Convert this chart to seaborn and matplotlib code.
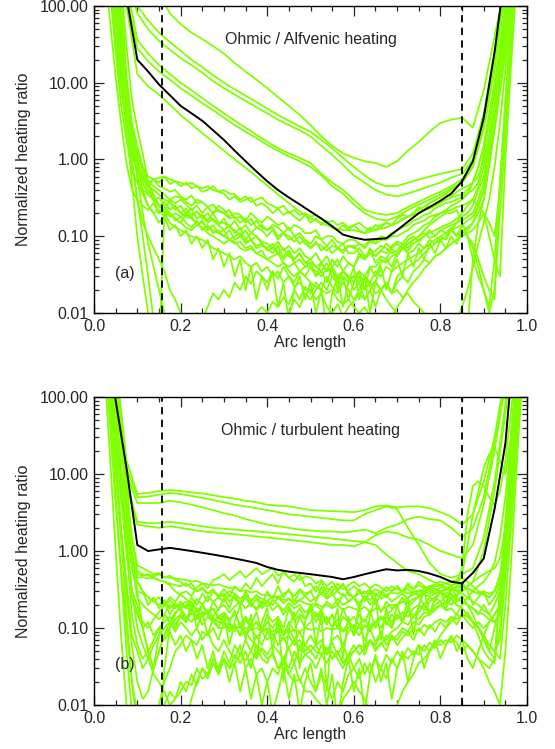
import numpy as np
import pandas as pd
import matplotlib
matplotlib.use("Agg")
import matplotlib.pyplot as plt
import seaborn as sns
from matplotlib.ticker import MultipleLocator, LogLocator, FormatStrFormatter, NullFormatter

# ---------------- data ----------------
arc = [round(0.025 * i, 4) for i in range(41)]        # coarse grid for smooth curves
arc_fine = [round(0.0125 * i, 4) for i in range(81)]  # fine grid for noisy curves

# ===== panel (a): Ohmic / Alfvenic heating =====
mean_a = [1000, 1000, 1000, 130, 20, 14, 9.5, 6.9, 5.0, 4.0, 3.2, 2.4, 1.8, 1.3, 0.95, 0.7, 0.52, 0.4, 0.32, 0.26,
          0.21, 0.17, 0.135, 0.105, 0.096, 0.09, 0.092, 0.094, 0.12, 0.155, 0.2, 0.24, 0.29, 0.36, 0.52, 0.95, 3.5, 25, 300, 1000, 1000]

a_u1 = [1000, 1000, 1000, 1000, 1000, 1000, 150, 80, 58, 45, 37, 30, 24, 18, 14, 11, 8.5, 6.5, 5, 3.8,
        2.8, 2.0, 1.5, 1.2, 1.05, 0.95, 0.9, 0.8, 0.95, 1.3, 1.7, 2.3, 3.0, 3.3, 3.5, 2.6, 8, 40, 200, 1000, 1000]
a_u2 = [1000, 1000, 1000, 300, 100, 65, 45, 34, 26, 20, 16, 12.5, 10, 8.2, 6.8, 5.6, 4.6, 3.8, 3.2, 2.7,
        2.3, 1.8, 1.4, 1.05, 0.8, 0.62, 0.5, 0.45, 0.45, 0.5, 0.55, 0.6, 0.65, 0.7, 0.75, 1.2, 4, 25, 200, 1000, 1000]
a_u3 = [1000, 1000, 1000, 250, 80, 50, 35, 27, 21, 17, 13.5, 10.5, 8.5, 7, 5.8, 4.8, 4, 3.3, 2.8, 2.4,
        2.0, 1.5, 1.15, 0.85, 0.62, 0.5, 0.4, 0.35, 0.33, 0.36, 0.4, 0.45, 0.5, 0.58, 0.65, 1.0, 3.5, 20, 180, 1000, 1000]
a_u4 = [1000, 1000, 1000, 100, 13, 9, 7, 5.2, 3.8, 2.9, 2.2, 1.7, 1.3, 1.0, 0.78, 0.6, 0.46, 0.35, 0.27, 0.21,
        0.17, 0.15, 0.13, 0.12, 0.12, 0.11, 0.12, 0.13, 0.15, 0.18, 0.22, 0.27, 0.32, 0.4, 0.5, 0.8, 2.5, 15, 150, 1000, 1000]
a_u5 = [1000, 1000, 1000, 200, 36, 24, 17, 13, 10, 8, 6.3, 5, 4, 3.2, 2.6, 2.1, 1.7, 1.4, 1.2, 1.05,
        0.9, 0.65, 0.5, 0.4, 0.3, 0.22, 0.2, 0.19, 0.2, 0.24, 0.28, 0.33, 0.38, 0.45, 0.55, 0.9, 3, 18, 160, 1000, 1000]
a_u6 = [1000, 1000, 1000, 150, 28, 19, 14, 11, 8.5, 6.8, 5.4, 4.4, 3.5, 2.8, 2.3, 1.9, 1.55, 1.3, 1.1, 0.95,
        0.8, 0.62, 0.45, 0.36, 0.26, 0.2, 0.17, 0.16, 0.18, 0.22, 0.26, 0.3, 0.35, 0.42, 0.5, 0.8, 2.6, 16, 140, 1000, 1000]

a_n1 = [1000, 1000, 1000, 400, 80, 15, 4, 1.5,
        0.8, 0.6, 0.5, 0.55, 0.45, 0.42, 0.38, 0.4,
        0.33, 0.3, 0.34, 0.27, 0.28, 0.24, 0.26, 0.21,
        0.2, 0.22, 0.17, 0.18, 0.15, 0.17, 0.13, 0.14,
        0.12, 0.13, 0.1, 0.11, 0.09, 0.1, 0.08, 0.09,
        0.07, 0.085, 0.065, 0.075, 0.06, 0.07, 0.065, 0.075,
        0.07, 0.08, 0.075, 0.09, 0.085, 0.1, 0.095, 0.11,
        0.12, 0.13, 0.14, 0.16, 0.17, 0.19, 0.2, 0.23,
        0.25, 0.27, 0.28, 0.3, 0.33, 0.36, 0.4, 0.5,
        1.2, 3, 8, 25, 80, 300, 1000, 1000, 1000]
a_n2 = [1000, 1000, 1000, 200, 40, 9, 2.5, 1.1,
        0.8, 0.6, 0.45, 0.55, 0.5, 0.6, 0.48, 0.52,
        0.45, 0.5, 0.42, 0.45, 0.38, 0.4, 0.45, 0.38,
        0.36, 0.3, 0.33, 0.28, 0.3, 0.32, 0.25, 0.27,
        0.24, 0.2, 0.23, 0.19, 0.21, 0.18, 0.16, 0.19,
        0.15, 0.17, 0.14, 0.16, 0.13, 0.12, 0.14, 0.12,
        0.14, 0.12, 0.11, 0.13, 0.12, 0.14, 0.15, 0.14,
        0.17, 0.19, 0.18, 0.2, 0.24, 0.22, 0.27, 0.3,
        0.32, 0.35, 0.33, 0.38, 0.42, 0.45, 0.5, 0.6,
        1.0, 2, 5, 15, 50, 150, 600, 1000, 1000]
a_n3 = [1000, 1000, 1000, 1000, 150, 30, 8, 2.5,
        1.0, 0.5, 0.35, 0.3, 0.25, 0.28, 0.22, 0.25,
        0.2, 0.23, 0.19, 0.21, 0.18, 0.15, 0.17, 0.14,
        0.17, 0.13, 0.12, 0.1, 0.12, 0.09, 0.1, 0.085,
        0.08, 0.07, 0.085, 0.065, 0.075, 0.06, 0.07, 0.055,
        0.05, 0.06, 0.045, 0.055, 0.04, 0.05, 0.035, 0.045,
        0.04, 0.055, 0.05, 0.06, 0.055, 0.065, 0.06, 0.075,
        0.085, 0.08, 0.1, 0.11, 0.12, 0.14, 0.15, 0.18,
        0.2, 0.21, 0.22, 0.24, 0.25, 0.27, 0.3, 0.45,
        0.8, 2, 5, 15, 50, 200, 1000, 1000, 1000]
a_n4 = [1000, 1000, 300, 60, 12, 3, 0.9, 0.4,
        0.3, 0.25, 0.22, 0.27, 0.2, 0.24, 0.2, 0.17,
        0.15, 0.19, 0.18, 0.14, 0.16, 0.12, 0.14, 0.11,
        0.12, 0.09, 0.1, 0.11, 0.08, 0.09, 0.07, 0.075,
        0.07, 0.06, 0.075, 0.05, 0.06, 0.045, 0.05, 0.04,
        0.045, 0.03, 0.035, 0.025, 0.04, 0.02, 0.03, 0.015,
        0.025, 0.035, 0.02, 0.04, 0.03, 0.045, 0.05, 0.04,
        0.06, 0.07, 0.065, 0.08, 0.09, 0.1, 0.11, 0.12,
        0.13, 0.14, 0.15, 0.17, 0.18, 0.2, 0.25, 0.4,
        0.6, 1.5, 4, 12, 40, 150, 600, 1000, 1000]
a_n5 = [1000, 1000, 1000, 1000, 1000, 200, 30, 6,
        2.5, 1.2, 0.5, 0.3, 0.2, 0.22, 0.18, 0.2,
        0.18, 0.2, 0.23, 0.17, 0.19, 0.16, 0.2, 0.15,
        0.15, 0.13, 0.16, 0.12, 0.14, 0.11, 0.13, 0.12,
        0.1, 0.12, 0.09, 0.11, 0.1, 0.085, 0.1, 0.08,
        0.07, 0.08, 0.075, 0.065, 0.075, 0.07, 0.08, 0.06,
        0.06, 0.07, 0.055, 0.06, 0.065, 0.075, 0.07, 0.06,
        0.065, 0.08, 0.07, 0.09, 0.1, 0.11, 0.095, 0.1,
        0.12, 0.13, 0.14, 0.15, 0.16, 0.18, 0.2, 0.3,
        0.5, 1.2, 3, 10, 30, 100, 400, 1000, 1000]
a_n6 = [1000, 1000, 1000, 500, 100, 20, 4, 1,
        0.3, 0.1, 0.03, 0.008, 0.003, 0.2, 0.3, 0.27,
        0.3, 0.26, 0.22, 0.25, 0.2, 0.24, 0.2, 0.22,
        0.2, 0.17, 0.18, 0.15, 0.17, 0.14, 0.16, 0.13,
        0.12, 0.14, 0.13, 0.11, 0.13, 0.1, 0.11, 0.09,
        0.08, 0.1, 0.09, 0.075, 0.09, 0.07, 0.06, 0.075,
        0.075, 0.06, 0.05, 0.065, 0.045, 0.055, 0.05, 0.07,
        0.055, 0.07, 0.06, 0.065, 0.08, 0.07, 0.09, 0.08,
        0.1, 0.09, 0.12, 0.1, 0.12, 0.1, 0.08, 0.05,
        0.03, 0.02, 0.015, 0.5, 6, 60, 500, 1000, 1000]
a_n7 = [1000, 1000, 1000, 700, 150, 25, 5, 1.5,
        0.6, 0.2, 0.08, 0.04, 0.02, 0.01, 0.006, 0.004,
        0.003, 0.004, 0.006, 0.01, 0.008, 0.012, 0.018, 0.015,
        0.02, 0.016, 0.025, 0.02, 0.03, 0.024, 0.035, 0.03,
        0.025, 0.035, 0.028, 0.04, 0.03, 0.025, 0.035, 0.03,
        0.04, 0.03, 0.045, 0.035, 0.05, 0.04, 0.055, 0.045,
        0.04, 0.06, 0.05, 0.07, 0.055, 0.065, 0.08, 0.07,
        0.08, 0.07, 0.09, 0.1, 0.085, 0.1, 0.12, 0.1,
        0.12, 0.11, 0.13, 0.1, 0.14, 0.12, 0.15, 0.2,
        0.3, 0.8, 2.5, 8, 25, 90, 350, 1000, 1000]
a_n8 = [1000, 1000, 800, 150, 25, 5, 1.8, 0.7,
        0.5, 0.4, 0.35, 0.3, 0.32, 0.25, 0.28, 0.22,
        0.25, 0.2, 0.18, 0.21, 0.17, 0.2, 0.16, 0.14,
        0.12, 0.14, 0.11, 0.13, 0.09, 0.11, 0.1, 0.08,
        0.07, 0.08, 0.06, 0.07, 0.055, 0.05, 0.06, 0.045,
        0.045, 0.04, 0.035, 0.045, 0.03, 0.025, 0.035, 0.03,
        0.02, 0.025, 0.015, 0.02, 0.012, 0.02, 0.025, 0.018,
        0.025, 0.03, 0.025, 0.035, 0.04, 0.05, 0.045, 0.055,
        0.06, 0.07, 0.08, 0.09, 0.1, 0.11, 0.12, 0.15,
        0.3, 0.9, 2.5, 8, 25, 100, 400, 1000, 1000]
a_n9 = [1000, 1000, 1000, 1000, 300, 40, 7, 2.5,
        1.2, 0.7, 0.5, 0.45, 0.4, 0.35, 0.3, 0.33,
        0.32, 0.28, 0.25, 0.3, 0.28, 0.24, 0.2, 0.25,
        0.22, 0.18, 0.2, 0.19, 0.16, 0.2, 0.17, 0.15,
        0.18, 0.16, 0.14, 0.15, 0.12, 0.14, 0.13, 0.11,
        0.11, 0.12, 0.09, 0.1, 0.1, 0.085, 0.08, 0.09,
        0.09, 0.08, 0.07, 0.085, 0.08, 0.09, 0.09, 0.1,
        0.1, 0.11, 0.12, 0.14, 0.15, 0.16, 0.18, 0.19,
        0.2, 0.22, 0.25, 0.27, 0.3, 0.35, 0.5, 0.8,
        1.5, 4, 10, 30, 100, 400, 1000, 1000, 1000]
a_n10 = [1000, 1000, 1000, 250, 45, 10, 3.5, 1.5,
         0.9, 0.6, 0.4, 0.3, 0.25, 0.22, 0.2, 0.17,
         0.15, 0.13, 0.12, 0.14, 0.13, 0.11, 0.1, 0.09,
         0.08, 0.09, 0.085, 0.07, 0.065, 0.07, 0.06, 0.055,
         0.05, 0.045, 0.04, 0.045, 0.035, 0.03, 0.035, 0.03,
         0.025, 0.022, 0.02, 0.018, 0.02, 0.015, 0.013, 0.015,
         0.012, 0.01, 0.012, 0.009, 0.01, 0.008, 0.006, 0.009,
         0.012, 0.015, 0.02, 0.025, 0.03, 0.038, 0.045, 0.055,
         0.06, 0.07, 0.08, 0.09, 0.11, 0.13, 0.15, 0.25,
         0.4, 1, 3, 9, 30, 100, 400, 1000, 1000]
a_n11 = [1000, 1000, 1000, 300, 35, 8, 3, 1.2,
         0.7, 0.55, 0.45, 0.4, 0.35, 0.3, 0.28, 0.24,
         0.2, 0.18, 0.17, 0.15, 0.15, 0.13, 0.12, 0.11,
         0.1, 0.09, 0.08, 0.085, 0.07, 0.075, 0.06, 0.065,
         0.05, 0.055, 0.06, 0.045, 0.04, 0.045, 0.035, 0.04,
         0.04, 0.035, 0.03, 0.038, 0.035, 0.028, 0.03, 0.025,
         0.03, 0.035, 0.03, 0.04, 0.04, 0.05, 0.045, 0.055,
         0.06, 0.07, 0.08, 0.09, 0.1, 0.12, 0.14, 0.16,
         0.18, 0.2, 0.2, 0.22, 0.15, 0.1, 0.05, 0.03,
         0.02, 0.012, 0.05, 0.5, 5, 40, 300, 1000, 1000]
a_n12 = [1000, 1000, 1000, 1000, 500, 60, 8, 2,
         1.2, 0.8, 0.6, 0.55, 0.58, 0.6, 0.55, 0.52,
         0.5, 0.47, 0.5, 0.45, 0.42, 0.45, 0.4, 0.38,
         0.4, 0.36, 0.35, 0.3, 0.33, 0.28, 0.3, 0.32,
         0.27, 0.25, 0.23, 0.25, 0.2, 0.22, 0.19, 0.2,
         0.18, 0.19, 0.17, 0.15, 0.16, 0.14, 0.15, 0.13,
         0.14, 0.15, 0.13, 0.12, 0.14, 0.13, 0.15, 0.14,
         0.15, 0.17, 0.18, 0.19, 0.2, 0.22, 0.23, 0.25,
         0.27, 0.3, 0.32, 0.34, 0.35, 0.4, 0.5, 0.8,
         1.5, 3, 7, 20, 60, 200, 800, 1000, 1000]
a_n13 = [1000, 1000, 1000, 600, 60, 10, 3, 0.9,
         0.3, 0.15, 0.1, 0.07, 0.05, 0.035, 0.02, 0.015,
         0.01, 0.007, 0.005, 0.004, 0.003, 0.003, 0.003, 0.003,
         0.003, 0.003, 0.004, 0.005, 0.006, 0.008, 0.01, 0.012,
         0.01, 0.014, 0.012, 0.016, 0.013, 0.02, 0.015, 0.022,
         0.018, 0.025, 0.02, 0.03, 0.022, 0.018, 0.025, 0.02,
         0.015, 0.02, 0.03, 0.025, 0.035, 0.03, 0.04, 0.035,
         0.04, 0.045, 0.05, 0.055, 0.06, 0.07, 0.08, 0.09,
         0.1, 0.11, 0.12, 0.13, 0.14, 0.16, 0.18, 0.25,
         0.4, 1, 3, 10, 35, 130, 500, 1000, 1000]
a_n14 = [1000, 1000, 1000, 1000, 1000, 150, 12, 3,
         1.5, 0.8, 0.5, 0.35, 0.25, 0.2, 0.15, 0.13,
         0.12, 0.11, 0.1, 0.095, 0.09, 0.08, 0.07, 0.065,
         0.06, 0.055, 0.05, 0.055, 0.045, 0.04, 0.045, 0.035,
         0.04, 0.03, 0.035, 0.025, 0.03, 0.022, 0.025, 0.02,
         0.02, 0.015, 0.018, 0.012, 0.01, 0.013, 0.009, 0.012,
         0.014, 0.018, 0.015, 0.02, 0.025, 0.02, 0.025, 0.018,
         0.03, 0.035, 0.04, 0.045, 0.05, 0.06, 0.07, 0.08,
         0.09, 0.1, 0.12, 0.15, 0.2, 0.25, 0.3, 0.25,
         0.2, 0.1, 0.05, 0.03, 1, 15, 200, 1000, 1000]
a_n15 = [1000, 1000, 1000, 1000, 200, 20, 3, 0.5,
         0.1, 0.03, 0.01, 0.004, 0.003, 0.003, 0.003, 0.003,
         0.003, 0.003, 0.003, 0.003, 0.003, 0.003, 0.003, 0.003,
         0.003, 0.003, 0.003, 0.003, 0.003, 0.003, 0.003, 0.003,
         0.003, 0.003, 0.004, 0.006, 0.01, 0.015, 0.012, 0.018,
         0.015, 0.02, 0.025, 0.02, 0.03, 0.025, 0.035, 0.03,
         0.025, 0.03, 0.02, 0.025, 0.018, 0.02, 0.015, 0.012,
         0.01, 0.008, 0.006, 0.005, 0.004, 0.004, 0.004, 0.004,
         0.004, 0.005, 0.006, 0.008, 0.012, 0.02, 0.04, 0.08,
         0.15, 0.3, 0.8, 3, 15, 80, 400, 1000, 1000]
a_n16 = [1000, 1000, 1000, 1000, 800, 80, 10, 2,
         0.6, 0.35, 0.25, 0.2, 0.22, 0.18, 0.2, 0.16,
         0.18, 0.15, 0.13, 0.16, 0.12, 0.14, 0.11, 0.12,
         0.1, 0.12, 0.09, 0.1, 0.085, 0.09, 0.075, 0.08,
         0.065, 0.07, 0.06, 0.055, 0.065, 0.05, 0.06, 0.045,
         0.05, 0.04, 0.045, 0.035, 0.04, 0.03, 0.035, 0.028,
         0.03, 0.025, 0.03, 0.022, 0.026, 0.02, 0.024, 0.018,
         0.02, 0.016, 0.018, 0.014, 0.012, 0.01, 0.008, 0.006,
         0.005, 0.004, 0.004, 0.004, 0.004, 0.006, 0.05, 0.15,
         0.2, 0.15, 0.1, 0.4, 3, 30, 300, 1000, 1000]
a_n17 = [1000, 1000, 1000, 1000, 400, 50, 9, 2,
         0.8, 0.4, 0.25, 0.2, 0.15, 0.18, 0.12, 0.14,
         0.1, 0.12, 0.08, 0.1, 0.07, 0.09, 0.05, 0.07,
         0.04, 0.06, 0.03, 0.05, 0.02, 0.04, 0.015, 0.03,
         0.02, 0.035, 0.012, 0.025, 0.008, 0.02, 0.03, 0.015,
         0.025, 0.01, 0.02, 0.006, 0.018, 0.03, 0.012, 0.025,
         0.04, 0.015, 0.03, 0.01, 0.025, 0.04, 0.02, 0.035,
         0.05, 0.03, 0.06, 0.04, 0.07, 0.05, 0.08, 0.06,
         0.09, 0.07, 0.1, 0.08, 0.12, 0.1, 0.07, 0.04,
         0.02, 0.01, 0.02, 0.2, 2, 20, 200, 1000, 1000]

# ===== panel (b): Ohmic / turbulent heating =====
mean_b = [1000, 1000, 90, 12, 1.2, 1.0, 1.05, 1.1, 1.05, 1.0, 0.95, 0.9, 0.85, 0.8, 0.75, 0.7, 0.62, 0.57, 0.54, 0.52,
          0.5, 0.48, 0.46, 0.43, 0.46, 0.5, 0.54, 0.58, 0.56, 0.57, 0.55, 0.51, 0.46, 0.4, 0.38, 0.52, 0.8, 3.5, 25, 1000, 1000]

b_u1 = [1000, 1000, 300, 15, 5.5, 5.7, 6.0, 6.2, 6.0, 5.8, 5.6, 5.3, 5.0, 4.8, 4.5, 4.3, 4.0, 3.9, 3.8, 3.6,
        3.4, 3.35, 3.3, 3.25, 3.2, 3.4, 3.8, 3.9, 3.7, 3.8, 3.8, 3.6, 3.2, 2.8, 2.2, 3, 8, 30, 200, 1000, 1000]
b_u2 = [1000, 1000, 250, 12, 5.0, 5.1, 5.4, 5.7, 5.5, 5.2, 4.9, 4.6, 4.3, 4.0, 3.8, 3.6, 3.4, 3.2, 3.0, 2.9,
        2.8, 2.7, 2.6, 2.5, 2.5, 3.0, 3.4, 3.8, 3.5, 2.0, 1.2, 0.7, 0.5, 0.45, 0.5, 0.6, 1.5, 8, 80, 1000, 1000]
b_u3 = [1000, 1000, 200, 10, 4.2, 4.2, 4.2, 4.5, 4.3, 4.0, 3.7, 3.4, 3.1, 2.9, 2.6, 2.4, 2.2, 2.1, 2.0, 1.9,
        1.85, 1.8, 1.8, 1.75, 1.8, 1.9, 1.7, 2.0, 2.2, 2.6, 2.8, 2.6, 2.5, 2.0, 1.5, 2.0, 5, 25, 150, 1000, 1000]
b_u4 = [1000, 1000, 150, 8, 2.4, 2.3, 2.3, 2.4, 2.3, 2.2, 2.1, 2.0, 1.95, 1.9, 1.85, 1.8, 1.75, 1.7, 1.65, 1.6,
        1.55, 1.5, 1.45, 1.4, 1.35, 1.3, 1.2, 0.9, 0.7, 0.55, 0.5, 0.42, 0.36, 0.32, 0.3, 0.4, 1.0, 6, 60, 1000, 1000]
b_u5 = [1000, 1000, 120, 7, 2.2, 2.1, 2.0, 2.1, 2.0, 1.9, 1.8, 1.75, 1.7, 1.65, 1.6, 1.55, 1.5, 1.45, 1.4, 1.35,
        1.3, 1.25, 1.2, 1.2, 1.15, 1.3, 1.6, 1.8, 1.7, 1.5, 1.4, 1.2, 1.0, 0.9, 0.8, 1.2, 4, 20, 150, 1000, 1000]

b_n1 = [1000, 1000, 1000, 300, 50, 10, 2.5, 0.8,
        0.5, 0.48, 0.5, 0.47, 0.5, 0.46, 0.45, 0.44,
        0.43, 0.42, 0.4, 0.41, 0.38, 0.37, 0.36, 0.37,
        0.35, 0.33, 0.34, 0.3, 0.31, 0.29, 0.3, 0.27,
        0.27, 0.25, 0.26, 0.23, 0.24, 0.22, 0.23, 0.21,
        0.2, 0.21, 0.19, 0.2, 0.18, 0.2, 0.17, 0.19,
        0.18, 0.17, 0.19, 0.16, 0.18, 0.17, 0.19, 0.2,
        0.2, 0.22, 0.21, 0.24, 0.25, 0.27, 0.26, 0.28,
        0.3, 0.31, 0.32, 0.34, 0.35, 0.33, 0.3, 0.28,
        0.27, 0.25, 0.3, 0.4, 0.8, 3, 20, 150, 1000]
b_n2 = [1000, 1000, 1000, 200, 40, 8, 2, 0.7,
        0.45, 0.46, 0.44, 0.45, 0.42, 0.4, 0.36, 0.3,
        0.27, 0.24, 0.2, 0.18, 0.16, 0.15, 0.13, 0.12,
        0.115, 0.11, 0.1, 0.105, 0.1, 0.095, 0.1, 0.09,
        0.095, 0.09, 0.1, 0.092, 0.088, 0.095, 0.09, 0.1,
        0.095, 0.1, 0.09, 0.1, 0.095, 0.1, 0.09, 0.1,
        0.11, 0.1, 0.105, 0.11, 0.12, 0.13, 0.15, 0.17,
        0.2, 0.22, 0.25, 0.27, 0.3, 0.32, 0.35, 0.37,
        0.4, 0.38, 0.36, 0.38, 0.35, 0.33, 0.3, 0.28,
        0.3, 0.28, 0.3, 0.5, 1.5, 6, 40, 250, 1000]
b_n3 = [1000, 1000, 600, 80, 10, 1.5, 0.3, 0.06,
        0.02, 0.012, 0.015, 0.03, 0.05, 0.08, 0.12, 0.1,
        0.15, 0.12, 0.18, 0.13, 0.2, 0.15, 0.22, 0.17,
        0.25, 0.18, 0.28, 0.2, 0.3, 0.22, 0.27, 0.2,
        0.3, 0.24, 0.35, 0.25, 0.32, 0.22, 0.3, 0.26,
        0.3, 0.22, 0.34, 0.25, 0.3, 0.2, 0.28, 0.22,
        0.25, 0.18, 0.26, 0.2, 0.24, 0.16, 0.22, 0.18,
        0.2, 0.25, 0.18, 0.22, 0.26, 0.2, 0.25, 0.22,
        0.3, 0.25, 0.28, 0.22, 0.26, 0.2, 0.18, 0.15,
        0.2, 0.15, 0.2, 0.3, 1, 5, 40, 300, 1000]
b_n4 = [1000, 1000, 1000, 400, 70, 12, 4, 0.9,
        0.3, 0.1, 0.05, 0.03, 0.08, 0.15, 0.2, 0.18,
        0.22, 0.18, 0.25, 0.2, 0.28, 0.22, 0.3, 0.26,
        0.32, 0.26, 0.35, 0.3, 0.38, 0.32, 0.45, 0.35,
        0.42, 0.5, 0.38, 0.55, 0.45, 0.4, 0.5, 0.35,
        0.38, 0.3, 0.4, 0.28, 0.35, 0.3, 0.38, 0.27,
        0.25, 0.32, 0.22, 0.3, 0.2, 0.28, 0.25, 0.3,
        0.35, 0.3, 0.38, 0.32, 0.4, 0.35, 0.3, 0.28,
        0.3, 0.26, 0.28, 0.24, 0.22, 0.2, 0.15, 0.1,
        0.07, 0.05, 0.04, 0.3, 2, 15, 80, 400, 1000]
b_n5 = [1000, 1000, 1000, 150, 20, 1.5, 0.15, 0.02,
        0.008, 0.004, 0.004, 0.006, 0.01, 0.02, 0.03, 0.05,
        0.06, 0.08, 0.07, 0.06, 0.09, 0.08, 0.1, 0.07,
        0.12, 0.09, 0.11, 0.08, 0.13, 0.1, 0.12, 0.09,
        0.15, 0.12, 0.14, 0.1, 0.18, 0.12, 0.15, 0.13,
        0.2, 0.14, 0.17, 0.12, 0.15, 0.1, 0.18, 0.12,
        0.1, 0.15, 0.12, 0.17, 0.1, 0.14, 0.12, 0.1,
        0.15, 0.12, 0.18, 0.14, 0.16, 0.2, 0.15, 0.18,
        0.2, 0.17, 0.18, 0.15, 0.14, 0.16, 0.12, 0.1,
        0.08, 0.12, 0.15, 0.2, 0.8, 4, 30, 200, 1000]
b_n6 = [1000, 1000, 1000, 300, 60, 6, 1.5, 0.3,
        0.1, 0.06, 0.04, 0.025, 0.02, 0.015, 0.01, 0.012,
        0.015, 0.02, 0.018, 0.03, 0.022, 0.025, 0.035, 0.028,
        0.04, 0.03, 0.035, 0.045, 0.038, 0.05, 0.04, 0.055,
        0.045, 0.06, 0.05, 0.04, 0.055, 0.035, 0.06, 0.045,
        0.04, 0.03, 0.045, 0.035, 0.05, 0.04, 0.03, 0.045,
        0.06, 0.045, 0.055, 0.07, 0.05, 0.065, 0.05, 0.08,
        0.06, 0.075, 0.09, 0.07, 0.1, 0.08, 0.11, 0.09,
        0.12, 0.1, 0.14, 0.11, 0.15, 0.12, 0.1, 0.12,
        0.1, 0.12, 0.15, 0.2, 0.5, 2, 15, 120, 1000]
b_n7 = [1000, 1000, 1000, 500, 35, 5, 1.2, 0.3,
        0.2, 0.1, 0.05, 0.03, 0.05, 0.08, 0.1, 0.13,
        0.15, 0.12, 0.18, 0.14, 0.2, 0.16, 0.18, 0.13,
        0.15, 0.12, 0.17, 0.1, 0.14, 0.11, 0.16, 0.09,
        0.12, 0.1, 0.13, 0.08, 0.1, 0.07, 0.09, 0.06,
        0.08, 0.06, 0.07, 0.05, 0.065, 0.045, 0.06, 0.04,
        0.05, 0.06, 0.045, 0.07, 0.055, 0.06, 0.08, 0.07,
        0.08, 0.1, 0.09, 0.12, 0.11, 0.14, 0.15, 0.17,
        0.2, 0.22, 0.25, 0.27, 0.3, 0.35, 0.4, 0.45,
        0.5, 0.55, 0.6, 0.8, 2, 8, 50, 300, 1000]
b_n8 = [1000, 1000, 1000, 1000, 200, 25, 5, 1.5,
        0.65, 0.6, 0.55, 0.5, 0.52, 0.45, 0.48, 0.42,
        0.4, 0.35, 0.38, 0.3, 0.34, 0.28, 0.32, 0.25,
        0.28, 0.22, 0.26, 0.2, 0.25, 0.19, 0.24, 0.18,
        0.22, 0.17, 0.2, 0.15, 0.19, 0.14, 0.18, 0.13,
        0.17, 0.12, 0.16, 0.11, 0.15, 0.1, 0.14, 0.12,
        0.14, 0.11, 0.13, 0.1, 0.12, 0.14, 0.11, 0.15,
        0.13, 0.16, 0.14, 0.18, 0.2, 0.17, 0.22, 0.25,
        0.22, 0.26, 0.24, 0.2, 0.18, 0.15, 0.12, 0.08,
        0.05, 0.04, 0.035, 0.3, 2.5, 20, 120, 600, 1000]
b_n9 = [1000, 1000, 400, 40, 4, 0.6, 0.1, 0.02,
        0.005, 0.003, 0.003, 0.004, 0.006, 0.01, 0.015, 0.012,
        0.02, 0.015, 0.025, 0.018, 0.03, 0.022, 0.035, 0.025,
        0.04, 0.03, 0.045, 0.035, 0.05, 0.03, 0.06, 0.04,
        0.035, 0.05, 0.03, 0.04, 0.025, 0.035, 0.02, 0.03,
        0.02, 0.015, 0.025, 0.018, 0.012, 0.02, 0.015, 0.025,
        0.03, 0.022, 0.035, 0.025, 0.04, 0.03, 0.045, 0.035,
        0.05, 0.04, 0.055, 0.045, 0.06, 0.05, 0.065, 0.055,
        0.07, 0.06, 0.075, 0.065, 0.05, 0.06, 0.05, 0.04,
        0.035, 0.03, 0.04, 0.1, 0.6, 3, 25, 200, 1000]
b_n10 = [1000, 1000, 1000, 250, 30, 5, 1, 0.25,
         0.15, 0.12, 0.1, 0.13, 0.16, 0.2, 0.25, 0.22,
         0.28, 0.3, 0.26, 0.34, 0.38, 0.33, 0.42, 0.45,
         0.5, 0.42, 0.48, 0.55, 0.45, 0.52, 0.6, 0.5,
         0.55, 0.6, 0.48, 0.52, 0.45, 0.5, 0.42, 0.47,
         0.45, 0.38, 0.42, 0.35, 0.4, 0.32, 0.36, 0.3,
         0.35, 0.3, 0.28, 0.32, 0.26, 0.3, 0.27, 0.29,
         0.28, 0.3, 0.32, 0.29, 0.31, 0.3, 0.33, 0.35,
         0.36, 0.38, 0.4, 0.42, 0.45, 0.4, 0.35, 0.3,
         0.28, 0.25, 0.3, 0.4, 1.2, 6, 40, 250, 1000]
b_n11 = [1000, 1000, 1000, 350, 55, 10, 3, 0.7,
         0.25, 0.2, 0.17, 0.15, 0.13, 0.15, 0.12, 0.16,
         0.18, 0.14, 0.12, 0.15, 0.11, 0.14, 0.12, 0.1,
         0.1, 0.12, 0.09, 0.11, 0.08, 0.1, 0.075, 0.09,
         0.07, 0.085, 0.06, 0.075, 0.055, 0.07, 0.05, 0.06,
         0.05, 0.06, 0.045, 0.055, 0.04, 0.05, 0.035, 0.045,
         0.03, 0.04, 0.025, 0.035, 0.02, 0.03, 0.022, 0.04,
         0.03, 0.045, 0.04, 0.05, 0.045, 0.06, 0.05, 0.065,
         0.06, 0.07, 0.065, 0.08, 0.07, 0.06, 0.05, 0.04,
         0.03, 0.02, 0.015, 0.01, 0.05, 0.6, 10, 150, 1000]
b_n12 = [1000, 1000, 1000, 1000, 100, 10, 1.2, 0.15,
         0.06, 0.04, 0.05, 0.07, 0.1, 0.12, 0.14, 0.11,
         0.14, 0.12, 0.16, 0.13, 0.15, 0.17, 0.14, 0.18,
         0.2, 0.16, 0.19, 0.22, 0.18, 0.21, 0.17, 0.2,
         0.22, 0.2, 0.25, 0.21, 0.24, 0.2, 0.23, 0.26,
         0.22, 0.25, 0.28, 0.24, 0.27, 0.3, 0.26, 0.29,
         0.25, 0.28, 0.3, 0.27, 0.32, 0.29, 0.34, 0.3,
         0.33, 0.3, 0.35, 0.32, 0.36, 0.33, 0.35, 0.32,
         0.3, 0.32, 0.35, 0.4, 0.6, 3, 7, 8,
         7, 5, 4, 6, 15, 60, 300, 1000, 1000]
b_n13 = [1000, 1000, 1000, 700, 65, 10, 2, 0.6,
         0.3, 0.28, 0.25, 0.22, 0.2, 0.23, 0.18, 0.21,
         0.18, 0.2, 0.15, 0.17, 0.14, 0.16, 0.12, 0.14,
         0.12, 0.1, 0.11, 0.08, 0.09, 0.07, 0.06, 0.05,
         0.04, 0.045, 0.03, 0.035, 0.025, 0.02, 0.022, 0.015,
         0.015, 0.012, 0.01, 0.008, 0.01, 0.007, 0.012, 0.015,
         0.02, 0.015, 0.012, 0.008, 0.006, 0.005, 0.006, 0.008,
         0.01, 0.015, 0.02, 0.025, 0.035, 0.04, 0.05, 0.06,
         0.08, 0.1, 0.12, 0.15, 0.2, 0.25, 0.3, 0.35,
         0.4, 0.5, 0.7, 1.5, 5, 25, 200, 1000, 1000]
b_n14 = [1000, 1000, 1000, 120, 15, 2, 0.4, 0.08,
         0.05, 0.03, 0.04, 0.06, 0.08, 0.1, 0.12, 0.09,
         0.12, 0.1, 0.08, 0.1, 0.07, 0.09, 0.06, 0.05,
         0.07, 0.05, 0.04, 0.06, 0.03, 0.04, 0.025, 0.03,
         0.02, 0.03, 0.025, 0.04, 0.03, 0.05, 0.035, 0.045,
         0.05, 0.04, 0.06, 0.045, 0.07, 0.08, 0.06, 0.09,
         0.1, 0.08, 0.11, 0.09, 0.12, 0.1, 0.14, 0.12,
         0.15, 0.12, 0.17, 0.14, 0.18, 0.2, 0.16, 0.2,
         0.22, 0.18, 0.25, 0.2, 0.18, 0.15, 0.12, 0.1,
         0.08, 0.06, 0.05, 0.07, 0.5, 4, 30, 250, 1000]
b_n15 = [1000, 1000, 1000, 1000, 400, 40, 8, 1.5,
         0.55, 0.5, 0.48, 0.45, 0.42, 0.4, 0.38, 0.36,
         0.35, 0.38, 0.33, 0.3, 0.32, 0.28, 0.3, 0.27,
         0.26, 0.3, 0.28, 0.24, 0.27, 0.23, 0.26, 0.24,
         0.22, 0.26, 0.24, 0.28, 0.3, 0.26, 0.32, 0.28,
         0.3, 0.35, 0.28, 0.33, 0.3, 0.38, 0.32, 0.36,
         0.4, 0.35, 0.38, 0.33, 0.37, 0.34, 0.3, 0.35,
         0.32, 0.3, 0.28, 0.3, 0.27, 0.3, 0.32, 0.3,
         0.34, 0.32, 0.35, 0.3, 0.28, 0.25, 0.22, 0.2,
         0.17, 0.15, 0.12, 0.15, 1, 8, 60, 400, 1000]
b_n16 = [1000, 1000, 1000, 800, 90, 12, 3, 0.8,
         0.4, 0.3, 0.25, 0.22, 0.25, 0.2, 0.23, 0.19,
         0.2, 0.22, 0.18, 0.24, 0.2, 0.26, 0.22, 0.25,
         0.22, 0.27, 0.24, 0.2, 0.25, 0.21, 0.18, 0.22,
         0.19, 0.23, 0.2, 0.17, 0.21, 0.18, 0.2, 0.16,
         0.18, 0.2, 0.17, 0.22, 0.19, 0.24, 0.2, 0.22,
         0.25, 0.21, 0.26, 0.23, 0.28, 0.24, 0.27, 0.22,
         0.25, 0.28, 0.24, 0.3, 0.26, 0.3, 0.28, 0.32,
         0.3, 0.28, 0.3, 0.35, 0.5, 1.2, 3, 6,
         12, 18, 22, 15, 10, 30, 200, 1000, 1000]
b_n17 = [1000, 1000, 200, 15, 1, 0.08, 0.01, 0.003,
         0.003, 0.003, 0.003, 0.003, 0.003, 0.003, 0.003, 0.003,
         0.003, 0.006, 0.012, 0.02, 0.03, 0.025, 0.04, 0.03,
         0.05, 0.035, 0.06, 0.045, 0.07, 0.05, 0.08, 0.06,
         0.09, 0.07, 0.1, 0.08, 0.12, 0.09, 0.14, 0.1,
         0.12, 0.16, 0.11, 0.14, 0.1, 0.13, 0.09, 0.12,
         0.08, 0.11, 0.07, 0.1, 0.065, 0.09, 0.06, 0.08,
         0.07, 0.09, 0.08, 0.1, 0.09, 0.11, 0.1, 0.12,
         0.13, 0.12, 0.14, 0.13, 0.15, 0.14, 0.12, 0.1,
         0.08, 0.06, 0.05, 0.04, 0.2, 2, 20, 150, 1000]
b_n18 = [1000, 1000, 600, 50, 5, 0.5, 0.05, 0.008,
         0.004, 0.003, 0.003, 0.003, 0.003, 0.03, 0.1, 0.15,
         0.2, 0.18, 0.22, 0.16, 0.2, 0.15, 0.18, 0.14,
         0.16, 0.13, 0.15, 0.11, 0.14, 0.1, 0.12, 0.09,
         0.1, 0.08, 0.09, 0.07, 0.08, 0.06, 0.07, 0.05,
         0.06, 0.05, 0.045, 0.055, 0.04, 0.05, 0.035, 0.045,
         0.05, 0.06, 0.055, 0.07, 0.06, 0.08, 0.07, 0.09,
         0.1, 0.12, 0.11, 0.14, 0.13, 0.16, 0.15, 0.18,
         0.2, 0.22, 0.2, 0.24, 0.22, 0.2, 0.18, 0.16,
         0.15, 0.13, 0.12, 0.15, 0.6, 4, 30, 250, 1000]
b_n19 = [1000, 1000, 1000, 600, 50, 6, 1, 0.3,
         0.15, 0.1, 0.12, 0.08, 0.1, 0.07, 0.09, 0.06,
         0.08, 0.05, 0.07, 0.04, 0.06, 0.03, 0.05, 0.025,
         0.04, 0.02, 0.035, 0.015, 0.03, 0.012, 0.025, 0.01,
         0.02, 0.008, 0.015, 0.03, 0.012, 0.025, 0.008, 0.02,
         0.035, 0.015, 0.03, 0.01, 0.025, 0.006, 0.02, 0.04,
         0.015, 0.03, 0.008, 0.025, 0.045, 0.02, 0.035, 0.012,
         0.03, 0.05, 0.02, 0.04, 0.06, 0.03, 0.05, 0.07,
         0.04, 0.06, 0.08, 0.05, 0.07, 0.04, 0.03, 0.05,
         0.08, 0.05, 0.1, 0.2, 0.8, 5, 40, 300, 1000]
b_n20 = [1000, 1000, 1000, 1000, 300, 30, 5, 1,
         0.4, 0.3, 0.2, 0.25, 0.18, 0.22, 0.15, 0.2,
         0.17, 0.12, 0.2, 0.1, 0.16, 0.08, 0.14, 0.1,
         0.15, 0.06, 0.12, 0.2, 0.07, 0.15, 0.04, 0.12,
         0.18, 0.05, 0.14, 0.02, 0.1, 0.16, 0.03, 0.12,
         0.2, 0.06, 0.15, 0.015, 0.1, 0.18, 0.04, 0.14,
         0.08, 0.2, 0.05, 0.15, 0.25, 0.07, 0.18, 0.1,
         0.2, 0.12, 0.25, 0.08, 0.2, 0.3, 0.15, 0.25,
         0.3, 0.2, 0.35, 0.25, 0.4, 0.3, 0.2, 0.25,
         0.3, 0.2, 0.25, 0.35, 1.5, 10, 80, 500, 1000]

smooth_a = [a_u1, a_u2, a_u3, a_u4, a_u5, a_u6]
noisy_a = [a_n1, a_n2, a_n3, a_n4, a_n5, a_n6, a_n7, a_n8, a_n9, a_n10,
           a_n11, a_n12, a_n13, a_n14, a_n15, a_n16, a_n17]
smooth_b = [b_u1, b_u2, b_u3, b_u4, b_u5]
noisy_b = [b_n1, b_n2, b_n3, b_n4, b_n5, b_n6, b_n7, b_n8, b_n9, b_n10,
           b_n11, b_n12, b_n13, b_n14, b_n15, b_n16, b_n17, b_n18, b_n19, b_n20]

dashed_x = [0.158, 0.849]
y_ticks = [0.01, 0.1, 1, 10, 100]
x_ticks = [0.0, 0.2, 0.4, 0.6, 0.8, 1.0]
titles = ["Ohmic / Alfvenic heating", "Ohmic / turbulent heating"]
tags = ["(a)", "(b)"]

# ---------------- plotting ----------------
sns.set_style("ticks")
plt.rcParams["font.family"] = ["Liberation Sans", "DejaVu Sans"]
plt.rcParams["font.size"] = 11.5

GREEN = "#80ff00"

fig = plt.figure(figsize=(5.55, 7.49), dpi=100)
ax_a = fig.add_axes([0.1694, 0.5821, 0.7802, 0.4099])
ax_b = fig.add_axes([0.1694, 0.0587, 0.7802, 0.4112])


def long_frame(smooth, noisy):
    rows = []
    k = 0
    for vals in smooth:
        assert len(vals) == len(arc), (k, len(vals))
        for x, y in zip(arc, vals):
            rows.append((k, x, y))
        k += 1
    for vals in noisy:
        assert len(vals) == len(arc_fine), (k, len(vals))
        for x, y in zip(arc_fine, vals):
            rows.append((k, x, y))
        k += 1
    return pd.DataFrame(rows, columns=["line", "arc", "ratio"])


for ax, smooth, noisy, mean, title, tag in [
        (ax_a, smooth_a, noisy_a, mean_a, titles[0], tags[0]),
        (ax_b, smooth_b, noisy_b, mean_b, titles[1], tags[1])]:
    ax.set_yscale("log")
    df = long_frame(smooth, noisy)
    sns.lineplot(data=df, x="arc", y="ratio", units="line", estimator=None,
                 color=GREEN, lw=1.3, ax=ax, legend=False)
    dm = pd.DataFrame({"arc": arc, "ratio": mean})
    sns.lineplot(data=dm, x="arc", y="ratio", color="black", lw=1.4, ax=ax, legend=False)
    for xv in dashed_x:
        ax.axvline(xv, color="black", lw=1.3, ls=(0, (4, 3)))
    ax.set_xlim(0, 1)
    ax.set_ylim(0.01, 100)
    ax.set_xticks(x_ticks)
    ax.set_xticklabels([f"{v:.1f}" for v in x_ticks])
    ax.xaxis.set_minor_locator(MultipleLocator(0.05))
    ax.set_yticks(y_ticks)
    ax.yaxis.set_major_formatter(FormatStrFormatter("%.2f"))
    ax.yaxis.set_minor_locator(LogLocator(base=10, subs=np.arange(2, 10)))
    ax.yaxis.set_minor_formatter(NullFormatter())
    ax.tick_params(which="major", direction="in", top=True, right=True, length=7, width=0.9,
                   labelsize=11.5, pad=4)
    ax.tick_params(which="minor", direction="in", top=True, right=True, length=3.5, width=0.9)
    for s in ax.spines.values():
        s.set_linewidth(1.0)
        s.set_color("black")
    ax.set_xlabel("Arc length", fontsize=11.5, labelpad=1)
    ax.set_ylabel("Normalized heating ratio", fontsize=11.5, labelpad=6)
    ax.text(0.5, 0.89, title, transform=ax.transAxes, ha="center", va="center", fontsize=11.5)
    ax.text(0.048, 0.13, tag, transform=ax.transAxes, ha="left", va="center", fontsize=11.5)

fig.savefig("out.png", dpi=100)
